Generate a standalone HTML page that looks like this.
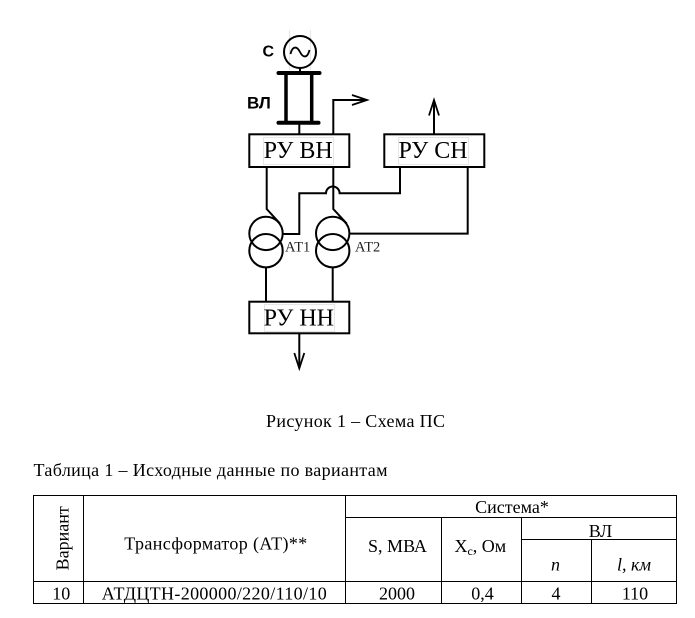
<!DOCTYPE html>
<html>
<head>
<meta charset="utf-8">
<style>
  html, body { margin: 0; padding: 0; background: #ffffff; }
  svg { display: block; }
  .serif { font-family: "Liberation Serif", "Noto Serif CJK SC", serif; fill: #000; }
  .sans { font-family: "Liberation Sans", "Noto Sans CJK SC", sans-serif; font-weight: bold; fill: #000; }
</style>
</head>
<body>
<svg width="695" height="618" viewBox="0 0 695 618" xmlns="http://www.w3.org/2000/svg">
  <rect x="0" y="0" width="695" height="618" fill="#ffffff"/>

  <!-- faint text-box guides -->
  <g stroke="#e6e6e6" stroke-width="1" fill="none">
    <line x1="289.5" y1="30" x2="289.5" y2="70"/>
    <line x1="310.5" y1="30" x2="310.5" y2="70"/>
    <rect x="263.5" y="137.5" width="70" height="27"/>
    <rect x="398.5" y="137.5" width="70" height="27"/>
    <rect x="264.5" y="304.5" width="70" height="27"/>
  </g>

  <!-- Generator -->
  <g stroke="#000" fill="none">
    <circle cx="300" cy="52" r="16" stroke-width="2"/>
    <path d="M290.5,54 C292.5,45.5 297,46 300,52 C303,58 307.5,58.5 309.5,50" stroke-width="1.8"/>
    <line x1="300" y1="68" x2="300" y2="73" stroke-width="2"/>
    <!-- ВЛ line symbol -->
    <line x1="278.5" y1="73" x2="319.5" y2="73" stroke-width="4" stroke-linecap="round"/>
    <line x1="278.5" y1="122.7" x2="318.5" y2="122.7" stroke-width="4" stroke-linecap="round"/>
    <line x1="286" y1="73" x2="286" y2="123" stroke-width="3.5"/>
    <line x1="311.7" y1="73" x2="311.7" y2="123" stroke-width="3.5"/>
    <line x1="299.3" y1="123" x2="299.3" y2="134" stroke-width="2"/>
  </g>
  <text class="sans" x="262.5" y="56.7" font-size="16">С</text>
  <text class="sans" x="247" y="108.3" font-size="17">ВЛ</text>

  <g stroke="#000" stroke-width="2" fill="none">
    <!-- РУ ВН -->
    <rect x="249.3" y="134.3" width="100" height="32.7"/>
    <!-- РУ СН -->
    <rect x="384.3" y="134.3" width="100" height="32.7"/>
    <!-- РУ НН -->
    <rect x="249.3" y="301.7" width="100" height="31.6"/>

    <!-- Arrow from РУ ВН -->
    <path d="M333.3,134 V100 H366.5"/>
    <path d="M352,95 L367,100 L352,105" stroke-width="1.8"/>
    <!-- Arrow up from РУ СН -->
    <path d="M434,134 V101"/>
    <path d="M429,115.5 L434,100 L439,115.5" stroke-width="1.8"/>
    <!-- Arrow down from РУ НН -->
    <path d="M299.3,334 V367.5"/>
    <path d="M294.3,353 L299.3,368.3 L304.3,353" stroke-width="1.8"/>

    <!-- AT1 lead -->
    <path d="M266.7,167 V209 L280,223.5"/>
    <!-- AT2 lead -->
    <path d="M333.3,167 V209 L346.7,223.5"/>

    <!-- AT1 circles -->
    <circle cx="266" cy="233.4" r="16.7"/>
    <circle cx="266" cy="250.7" r="16.7"/>
    <!-- AT2 circles -->
    <circle cx="332.7" cy="233.4" r="16.7"/>
    <circle cx="332.7" cy="250.7" r="16.7"/>

    <!-- AT1 to РУ СН with hop -->
    <path d="M282.7,234 H299.3 V193.3 H326 A6.8,6.8 0 0 1 339.6,193.3 H400 V167"/>
    <!-- AT2 to РУ СН -->
    <path d="M349.3,233.6 H467.7 V167"/>

    <!-- Bottom connections to РУ НН -->
    <path d="M266,267.4 V301.7"/>
    <path d="M332.7,267.4 V301.7"/>
  </g>

  <!-- Box labels -->
  <text class="serif" x="298.2" y="158" font-size="24" text-anchor="middle">РУ ВН</text>
  <text class="serif" x="433" y="158" font-size="24" text-anchor="middle">РУ СН</text>
  <text class="serif" x="298.8" y="325.5" font-size="24" text-anchor="middle">РУ НН</text>

  <text class="serif" x="285" y="251.7" font-size="14.5" style="fill:#222">АТ1</text>
  <text class="serif" x="355" y="251.7" font-size="14.5" style="fill:#222">АТ2</text>

  <!-- Caption -->
  <text class="serif" x="355.5" y="427" font-size="18" text-anchor="middle" textLength="179">Рисунок 1 – Схема ПС</text>
  <text class="serif" x="33.5" y="476" font-size="18" textLength="354">Таблица 1 – Исходные данные по вариантам</text>

  <!-- Table grid -->
  <g stroke="#000" stroke-width="1" shape-rendering="crispEdges">
    <line x1="33" y1="495.5" x2="677" y2="495.5"/>
    <line x1="345" y1="517.5" x2="677" y2="517.5"/>
    <line x1="521" y1="539.5" x2="677" y2="539.5"/>
    <line x1="33" y1="581.5" x2="677" y2="581.5"/>
    <line x1="33" y1="603.5" x2="677" y2="603.5"/>

    <line x1="33.5" y1="495" x2="33.5" y2="604"/>
    <line x1="83.5" y1="495" x2="83.5" y2="604"/>
    <line x1="345.5" y1="495" x2="345.5" y2="604"/>
    <line x1="441.5" y1="517" x2="441.5" y2="604"/>
    <line x1="521.5" y1="517" x2="521.5" y2="604"/>
    <line x1="591.5" y1="539" x2="591.5" y2="604"/>
    <line x1="676.5" y1="495" x2="676.5" y2="604"/>
  </g>

  <!-- Table text -->
  <text class="serif" font-size="18" text-anchor="middle" transform="translate(68.5,538.3) rotate(-90)">Вариант</text>
  <text class="serif" x="215.8" y="549.5" font-size="18" text-anchor="middle" textLength="183">Трансформатор (АТ)**</text>
  <text class="serif" x="512" y="513" font-size="18" text-anchor="middle">Система*</text>
  <text class="serif" x="397.5" y="552" font-size="18" text-anchor="middle">S, МВА</text>
  <text class="serif" x="480.3" y="552" font-size="18" text-anchor="middle">X<tspan font-size="12" dy="3">c</tspan><tspan dy="-3">, Ом</tspan></text>
  <text class="serif" x="600.5" y="537" font-size="18" text-anchor="middle">ВЛ</text>
  <text class="serif" x="555.5" y="570.5" font-size="18" text-anchor="middle" font-style="italic">n</text>
  <text class="serif" x="634" y="570.5" font-size="18" text-anchor="middle" font-style="italic">l, км</text>

  <text class="serif" x="61.3" y="599.3" font-size="18" text-anchor="middle">10</text>
  <text class="serif" x="214.2" y="599.3" font-size="18" text-anchor="middle" textLength="225">АТДЦТН-200000/220/110/10</text>
  <text class="serif" x="397" y="599.3" font-size="18" text-anchor="middle">2000</text>
  <text class="serif" x="482.5" y="599.3" font-size="18" text-anchor="middle">0,4</text>
  <text class="serif" x="556" y="599.3" font-size="18" text-anchor="middle">4</text>
  <text class="serif" x="635" y="599.3" font-size="18" text-anchor="middle">110</text>
</svg>
</body>
</html>
